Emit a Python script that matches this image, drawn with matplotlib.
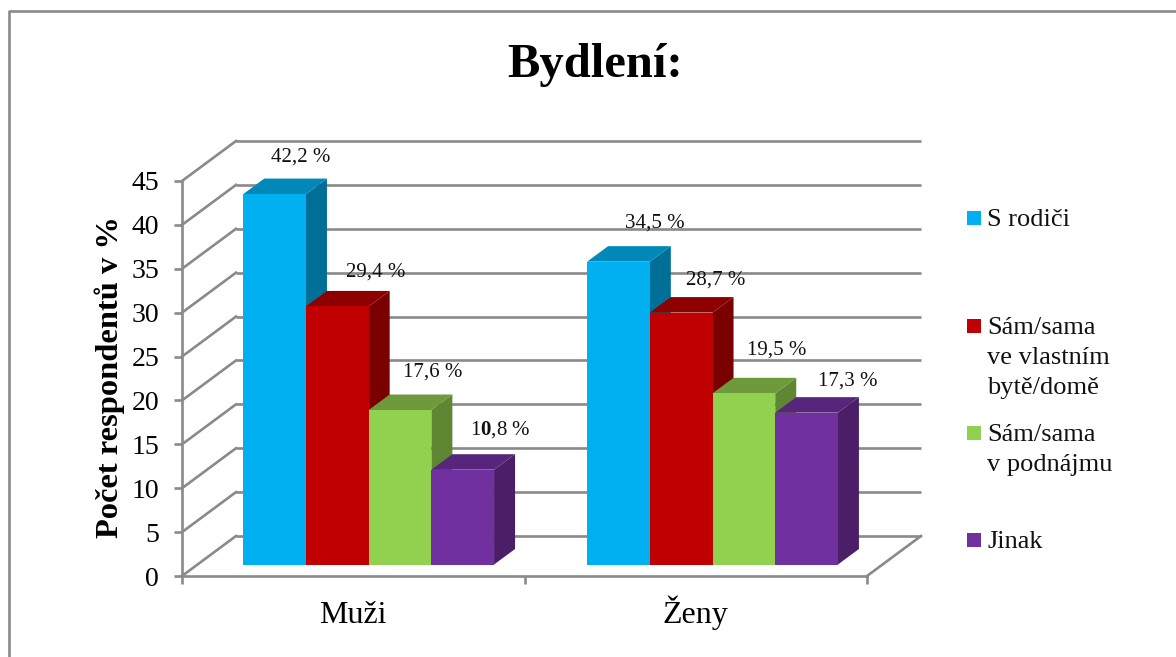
import matplotlib
matplotlib.use("Agg")
import matplotlib.pyplot as plt
from matplotlib.patches import Polygon, Rectangle
from matplotlib.lines import Line2D

plt.rcParams['font.family'] = ['Liberation Serif', 'DejaVu Serif']
plt.rcParams['mathtext.fontset'] = 'custom'
plt.rcParams['mathtext.rm'] = 'Liberation Serif'
plt.rcParams['mathtext.bf'] = 'Liberation Serif:bold'

title = "Bydlení:"
ylabel = "Počet respondentů v %"
categories = ["Muži", "Ženy"]
series_names = ["S rodiči", "Sám/sama\nve vlastním\nbytě/domě", "Sám/sama\nv podnájmu", "Jinak"]
s_rodici = [42.2, 34.5]
vlastni = [29.4, 28.7]
podnajem = [17.6, 19.5]
jinak = [10.8, 17.3]
series = [s_rodici, vlastni, podnajem, jinak]
labels = [["42,2 %", "34,5 %"], ["29,4 %", "28,7 %"], ["17,6 %", "19,5 %"],
          ["1$\\mathbf{0}$,8 %", "17,3 %"]]
yticks = list(range(0, 50, 5))

front = ["#00B0F0", "#C00000", "#92D050", "#7030A0"]
side = ["#006F98", "#7A0000", "#5F8633", "#4A1F68"]
top = ["#0088B8", "#8E0000", "#6F9A3C", "#57267C"]
GRID = "#8A8A8A"
LW = 1.9

W, H = 1176, 657
fig = plt.figure(figsize=(W / 100, H / 100), dpi=100, facecolor="white")
L, R, T, B = 182, 867, 181, 576
ax = fig.add_axes([L / W, 1 - B / H, (R - L) / W, (B - T) / H])
ax.set_xlim(0, 2)
ax.set_ylim(0, 45)
ax.patch.set_visible(False)
px_x = (R - L) / 2
px_y = (B - T) / 45

# frame of the chart area
fig.add_artist(Line2D([8.5 / W, 8.5 / W, 1], [0, 1 - 11 / H, 1 - 11 / H],
                      color=GRID, lw=LW, transform=fig.transFigure))

# walls
wall_dx = 54 / px_x
wall_dy = 40 / px_y
for v in yticks:
    ax.plot([wall_dx, 2 + wall_dx], [v + wall_dy] * 2, color=GRID, lw=LW, clip_on=False, zorder=1,
            solid_capstyle='butt')
    ax.plot([0, wall_dx], [v, v + wall_dy], color=GRID, lw=LW, clip_on=False, zorder=1)
ax.plot([2, 2 + wall_dx], [0, wall_dy], color=GRID, lw=LW, clip_on=False, zorder=1)

# bars
bar_w = 62.7 / px_x
base = 11.5 / px_y
d_x = 21 / px_x
d_y = 15.5 / px_y
group_c = 0.545
group_step = 1.004
offs = [(26, 37, 36, 39), (38, 34, 35, 33), (33, 38, 33, 43), (38, 40, 41, 32)]
z = 3
for j, vals in enumerate(series):
    xs = [i * group_step + group_c + (j - 1.5) * bar_w for i in range(len(categories))]
    ax.bar(xs, vals, width=bar_w, bottom=base, color=front[j], linewidth=0, zorder=z + 0.2)
    for i, (x, v) in enumerate(zip(xs, vals)):
        xr = x + bar_w / 2
        xl = x - bar_w / 2
        yt = base + v
        ax.add_patch(Polygon([(xr, base), (xr + d_x, base + d_y), (xr + d_x, yt + d_y), (xr, yt)],
                             closed=True, fc=side[j], ec="none", zorder=z, clip_on=False))
        ax.add_patch(Polygon([(xl, yt), (xl + d_x, yt + d_y), (xr + d_x, yt + d_y), (xr, yt)],
                             closed=True, fc=top[j], ec="none", zorder=z + 0.1, clip_on=False))
        ax.annotate(labels[j][i], (x, yt), xytext=(offs[j][2 * i], offs[j][2 * i + 1]),
                    textcoords='offset pixels', ha='center', va='center',
                    fontsize=15, color="#111111", zorder=20, annotation_clip=False)
    z += 1

# axes
for s in ('top', 'right'):
    ax.spines[s].set_visible(False)
for s in ('left', 'bottom'):
    ax.spines[s].set_color(GRID)
    ax.spines[s].set_linewidth(LW)
    ax.spines[s].set_zorder(2)
ax.set_yticks(yticks)
ax.tick_params(axis='y', length=6, width=LW, color=GRID, pad=10.5, labelsize=20)
ax.set_xticks([0, 1, 2])
ax.set_xticklabels([])
ax.tick_params(axis='x', which='major', length=6, width=LW, color=GRID)
ax.set_xticks([0.5, 1.5], minor=True)
ax.set_xticklabels(categories, minor=True, fontsize=23, va='baseline')
ax.tick_params(axis='x', which='minor', length=0, pad=33.5)
ax.set_ylabel(ylabel, fontsize=23.4, fontweight='bold')
ax.yaxis.set_label_coords((125 - L) / (R - L), (576 - 377.5) / 395)

fig.text(595 / W, 1 - 65 / H, title, fontsize=35, fontweight='bold', ha='center', va='center')

# legend
ly = [218, 326, 433, 540]
for name, c, y in zip(series_names, front, ly):
    fig.add_artist(Rectangle((967 / W, 1 - (y + 7) / H), 14 / W, 14 / H, fc=c, ec="none",
                             transform=fig.transFigure))
    fig.text(987 / W, 1 - (y - 9) / H, name, fontsize=19, va='top', ha='left',
             linespacing=1.48, color="#111111")

fig.savefig("out.png", dpi=100, facecolor="white")
